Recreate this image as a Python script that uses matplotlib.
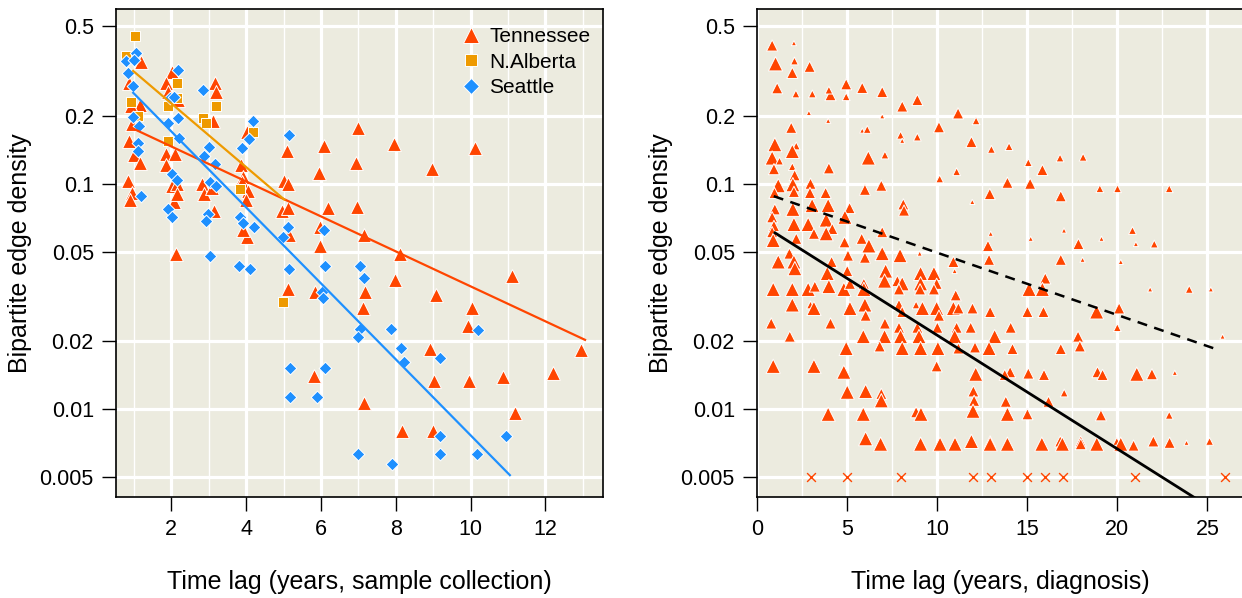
import numpy as np
import matplotlib
matplotlib.use('Agg')
import matplotlib.pyplot as plt
from matplotlib.lines import Line2D
from matplotlib.ticker import NullLocator

plt.rcParams['font.family'] = ['Liberation Sans', 'DejaVu Sans']

# ---- left panel: sample-collection time lag ----
tn_x = [1.19, 0.87, 1.16, 0.92, 0.96, 0.87, 1.01, 1.16, 0.83, 0.95, 0.89,
        2.03, 1.87, 1.92, 2.18, 1.87, 2.10, 1.85, 2.01, 2.14, 2.08, 2.14, 2.12,
        3.17, 3.19, 3.12, 2.81, 2.87, 3.08, 3.14,
        3.85, 3.92, 3.90, 4.06, 3.99, 4.01, 3.92, 4.01,
        5.02, 5.13, 5.08, 4.97, 5.11, 5.15, 5.13,
        5.97, 5.95, 6.09, 6.20, 5.97, 5.84, 5.82,
        7.00, 6.94, 6.95, 7.15, 7.19, 7.13, 7.15,
        7.95, 8.11, 7.98, 8.17,
        8.98, 9.07, 8.92, 9.02, 9.00,
        10.12, 10.04, 9.92, 9.97,
        11.10, 10.87, 11.20, 12.19, 12.94]
tn_y = [0.345, 0.28, 0.224, 0.22, 0.184, 0.155, 0.134, 0.124, 0.103, 0.091, 0.085,
        0.313, 0.28, 0.256, 0.235, 0.136, 0.136, 0.121, 0.098, 0.10, 0.083, 0.09, 0.049,
        0.28, 0.256, 0.19, 0.10, 0.09, 0.096, 0.076,
        0.121, 0.107, 0.102, 0.093, 0.085, 0.058, 0.062, 0.17,
        0.103, 0.10, 0.14, 0.076, 0.078, 0.059, 0.034,
        0.064, 0.112, 0.147, 0.078, 0.053, 0.033, 0.0141,
        0.176, 0.123, 0.079, 0.059, 0.033, 0.0281, 0.0106,
        0.15, 0.049, 0.0375, 0.008,
        0.116, 0.032, 0.0185, 0.0133, 0.008,
        0.144, 0.028, 0.0235, 0.0133,
        0.039, 0.0139, 0.0096, 0.0145, 0.0183]

na_x = [1.03, 0.80, 0.91, 1.11, 2.14, 2.14, 1.92, 1.92, 2.85, 2.92, 3.19, 4.19, 3.83, 4.98]
na_y = [0.453, 0.37, 0.23, 0.20, 0.28, 0.24, 0.22, 0.155, 0.196, 0.185, 0.22, 0.17, 0.095, 0.030]

se_x = [1.05, 0.80, 1.01, 0.83, 0.98, 2.17, 1.96, 2.07, 2.85, 0.98, 1.14, 2.17, 1.92,
        1.11, 1.10, 2.20, 3.01, 2.88, 3.17, 3.90, 4.08, 4.19, 5.15, 2.01, 2.14, 3.03,
        3.19, 1.19, 1.92, 2.03, 2.97, 2.92, 3.83, 3.92, 4.20, 5.13, 6.09, 4.99, 3.03,
        3.82, 4.11, 5.15, 6.11, 7.04, 6.02, 6.06, 5.17, 6.11, 5.17, 5.90, 7.04, 7.00,
        7.16, 7.00, 7.86, 10.21, 8.13, 8.23, 9.19, 9.18, 9.18, 10.94, 10.16, 7.89]
se_y = [0.38, 0.35, 0.355, 0.31, 0.27, 0.32, 0.24, 0.243, 0.26, 0.198, 0.18, 0.196, 0.185,
        0.152, 0.14, 0.159, 0.146, 0.133, 0.122, 0.144, 0.158, 0.189, 0.165, 0.11, 0.104, 0.102,
        0.098, 0.088, 0.077, 0.071, 0.073, 0.068, 0.071, 0.067, 0.064, 0.064, 0.062, 0.058, 0.048,
        0.043, 0.042, 0.042, 0.043, 0.043, 0.033, 0.031, 0.0152, 0.0152, 0.0113, 0.0113, 0.0226, 0.0063,
        0.038, 0.021, 0.0226, 0.0224, 0.0186, 0.0162, 0.0168, 0.0076, 0.0063, 0.0076, 0.0063, 0.0057]

# fitted lines (start/end)
tn_fit_x, tn_fit_y = [0.96, 13.06], [0.176, 0.0203]
na_fit_x, na_fit_y = [0.98, 5.02], [0.316, 0.085]
se_fit_x, se_fit_y = [0.98, 11.05], [0.253, 0.0051]

# ---- right panel: diagnosis time lag (w = relative weight of each pair) ----
dx = [0.84, 2.05, 1.03, 2.08, 1.96, 2.92, 1.12, 2.16, 3.07, 4.08, 3.99, 4.95, 4.95, 5.84, 6.95,
      8.06, 8.90, 11.16, 12.16, 2.88, 3.95, 6.95, 1.90, 5.84, 6.12, 7.97, 8.06, 8.90, 10.10, 11.90,
      0.99, 2.18, 1.96, 0.84, 1.25, 6.18, 7.10, 0.94, 1.96, 2.09, 3.99, 10.14, 11.08, 1.18, 1.99,
      2.97, 0.97, 2.05, 2.94, 3.81, 5.99, 6.90, 11.95, 3.95, 3.06, 5.14, 8.12, 8.16, 0.99, 1.99,
      0.84, 2.05, 2.84, 3.84, 4.88, 0.94, 4.18, 3.16, 3.84, 6.95, 0.84, 0.90, 2.18, 4.86, 5.81,
      1.80, 5.05, 5.99, 6.21, 6.95, 7.94, 9.03, 10.90, 10.97, 1.18, 2.05, 2.10, 4.14, 3.90, 5.01,
      7.14, 7.08, 7.79, 8.06, 9.08, 9.82, 9.97, 9.08, 5.93, 0.90, 1.96, 2.84, 3.21, 3.99, 4.82,
      5.16, 5.93, 7.88, 9.05, 9.82, 11.03, 1.96, 2.97, 3.16, 5.16, 5.99, 7.88, 8.06, 8.83, 9.18,
      9.97, 10.10, 10.90, 11.18, 11.96, 0.79, 4.08, 6.03, 7.10, 7.88, 7.97, 8.90, 10.01, 11.08,
      11.86, 1.82, 5.90, 7.08, 8.99, 10.97, 6.81, 4.95, 8.06, 9.08, 10.04, 11.18, 12.10, 0.90,
      3.16, 9.97, 12.14, 4.82, 5.01, 6.03, 6.90, 6.90, 12.01, 12.05, 11.99, 3.95, 5.90, 8.83,
      9.10, 6.03, 6.86, 9.08, 10.16, 10.99, 11.90,
      13.01, 13.99, 15.06, 15.84, 16.82, 18.10, 13.90, 15.16, 12.92, 16.86, 19.03, 20.01, 22.88,
      12.97, 15.19, 17.04, 19.12, 20.84, 21.03, 22.05, 12.82, 17.84,
      12.88, 16.86, 18.07, 20.19, 16.00, 15.10, 15.84, 21.82, 23.99, 25.19, 12.94, 15.01, 15.90,
      18.85, 20.10, 20.00, 14.08, 13.19, 17.82, 17.92, 25.84, 12.88, 14.18, 16.86, 14.05, 13.75,
      15.06, 15.93, 18.90, 19.18, 21.08, 21.92, 23.19, 17.05, 13.81, 16.18, 13.90, 15.01, 19.09,
      22.88, 12.94, 12.94, 13.90, 15.81, 16.83, 16.95, 17.97, 17.97, 18.86, 19.97, 20.19, 20.90,
      22.00, 22.90, 23.84, 25.12]
dy = [0.41, 0.42, 0.34, 0.35, 0.31, 0.33, 0.265, 0.25, 0.25, 0.247, 0.26, 0.276, 0.243, 0.266, 0.255,
      0.22, 0.235, 0.205, 0.19, 0.206, 0.19, 0.199, 0.177, 0.172, 0.174, 0.164, 0.155, 0.161, 0.178, 0.153,
      0.149, 0.147, 0.139, 0.13, 0.126, 0.13, 0.134, 0.116, 0.119, 0.109, 0.117, 0.105, 0.113, 0.098, 0.099,
      0.10, 0.091, 0.092, 0.091, 0.091, 0.094, 0.098, 0.083, 0.08, 0.08, 0.078, 0.081, 0.076, 0.077, 0.077,
      0.071, 0.066, 0.066, 0.069, 0.071, 0.065, 0.063, 0.060, 0.060, 0.061, 0.061, 0.056, 0.057, 0.055, 0.057,
      0.049, 0.048, 0.047, 0.053, 0.049, 0.048, 0.049, 0.045, 0.041, 0.045, 0.045, 0.042, 0.045, 0.040, 0.041,
      0.041, 0.037, 0.037, 0.036, 0.040, 0.040, 0.036, 0.036, 0.036, 0.034, 0.034, 0.034, 0.035, 0.035, 0.034,
      0.036, 0.034, 0.034, 0.034, 0.034, 0.032, 0.029, 0.029, 0.028, 0.028, 0.029, 0.029, 0.027, 0.029, 0.028,
      0.028, 0.026, 0.028, 0.028, 0.028, 0.024, 0.024, 0.026, 0.024, 0.023, 0.021, 0.023, 0.023, 0.023,
      0.023, 0.021, 0.021, 0.021, 0.021, 0.021, 0.019, 0.0186, 0.0186, 0.0186, 0.0186, 0.0186, 0.0188, 0.0155,
      0.0155, 0.0155, 0.0143, 0.0146, 0.0119, 0.012, 0.0117, 0.0109, 0.012, 0.0109, 0.0098, 0.0095, 0.0095, 0.0097,
      0.0095, 0.0074, 0.007, 0.007, 0.007, 0.007, 0.0072,
      0.142, 0.146, 0.124, 0.115, 0.13, 0.131, 0.101, 0.10, 0.09, 0.088, 0.095, 0.095, 0.095,
      0.06, 0.057, 0.062, 0.057, 0.062, 0.054, 0.054, 0.053, 0.054,
      0.046, 0.046, 0.046, 0.045, 0.038, 0.034, 0.034, 0.034, 0.034, 0.034, 0.027, 0.027, 0.027,
      0.027, 0.028, 0.023, 0.023, 0.021, 0.021, 0.019, 0.021, 0.0186, 0.0185, 0.0185, 0.0146, 0.0142,
      0.0144, 0.0142, 0.0146, 0.0142, 0.0143, 0.0143, 0.0145, 0.0118, 0.0108, 0.0108, 0.0095, 0.0095, 0.0094,
      0.0094, 0.0072, 0.007, 0.007, 0.007, 0.0072, 0.007, 0.0072, 0.007, 0.007, 0.0072, 0.007, 0.0069,
      0.0072, 0.0071, 0.0071, 0.0072]
dw = [3, 1, 4, 2, 3, 3, 3, 2, 2, 3, 2, 3, 2, 3, 3,
      3, 3, 3, 2, 1, 1, 1, 3, 1, 2, 2, 1, 2, 3, 3,
      4, 2, 4, 4, 2, 4, 2, 3, 2, 3, 3, 2, 2, 4, 4,
      3, 3, 3, 3, 3, 3, 3, 1, 4, 4, 3, 3, 3, 3, 4,
      3, 4, 4, 4, 4, 3, 3, 3, 4, 3, 3, 4, 3, 3, 3,
      3, 3, 3, 4, 4, 4, 1, 3, 1, 4, 4, 4, 3, 4, 3,
      4, 4, 3, 4, 4, 4, 3, 4, 3, 4, 4, 4, 3, 4, 4,
      3, 4, 3, 3, 3, 3, 4, 2, 4, 4, 4, 3, 3, 2, 4,
      4, 3, 4, 3, 3, 3, 3, 3, 3, 3, 4, 3, 3, 3,
      3, 3, 4, 4, 4, 4, 3, 4, 4, 4, 4, 3, 3, 4,
      4, 3, 4, 4, 4, 4, 3, 4, 3, 3, 4, 4, 4, 3,
      4, 4, 4, 4, 4, 4, 4,
      2, 2, 2, 3, 2, 2, 3, 3, 3, 3, 2, 2, 2,
      1, 1, 1, 1, 2, 1, 2, 3, 3,
      3, 3, 1, 1, 3, 4, 4, 1, 2, 1, 3, 3, 3,
      4, 3, 2, 3, 4, 3, 3, 1, 4, 3, 3, 3, 3,
      3, 3, 3, 3, 4, 3, 1, 2, 3, 3, 4, 3, 3,
      2, 3, 4, 4, 4, 3, 4, 3, 3, 4, 2, 4, 3,
      3, 3, 1, 2]
zero_x = [3, 5, 8, 12, 13, 15, 16, 17, 21, 26]
zero_level = 0.005

diag_fit_x, diag_fit_y = [1.0, 25.0], [0.0605, 0.00373]
diag_fit2_x, diag_fit2_y = [0.93, 25.71], [0.088, 0.0182]

yticks = [0.5, 0.2, 0.1, 0.05, 0.02, 0.01, 0.005]
ytick_labels = ['0.5', '0.2', '0.1', '0.05', '0.02', '0.01', '0.005']

BG = '#ECEBDF'
TN, NA, SE = '#FF4500', '#EE9A00', '#1E90FF'

fig = plt.figure(figsize=(12.42, 5.98), dpi=100)
ax1 = fig.add_axes([116 / 1242, 1 - 497 / 598, 487 / 1242, 488 / 598])
ax2 = fig.add_axes([757 / 1242, 1 - 497 / 598, 487 / 1242, 488 / 598])


def style(ax, xlim, xt, major, minor):
    ax.set_facecolor(BG)
    ax.set_yscale('log')
    ax.set_xlim(*xlim)
    ax.set_ylim(0.00408, 0.595)
    for v in major:
        ax.axvline(v, color='white', lw=2.3, zorder=1)
    for v in minor:
        ax.axvline(v, color='white', lw=1.0, zorder=1)
    for v in yticks:
        ax.axhline(v, color='white', lw=2.3, zorder=1)
    ax.set_yticks(yticks)
    ax.set_yticklabels(ytick_labels)
    ax.yaxis.set_minor_locator(NullLocator())
    ax.set_xticks(xt)
    ax.tick_params(direction='out', length=10, width=1, labelsize=15.5, pad=6)
    for s in ax.spines.values():
        s.set_linewidth(1.2)
    ax.set_ylabel('Bipartite edge density', fontsize=18)
    ax.yaxis.set_label_coords(-0.172, 0.5)


style(ax1, (0.52, 13.54), [2, 4, 6, 8, 10, 12], range(2, 14, 2), range(1, 14, 2))
style(ax2, (0, 27.03), [0, 5, 10, 15, 20, 25], range(0, 30, 5), np.arange(2.5, 28, 5))

ax1.scatter(tn_x, tn_y, marker='^', s=100, c=TN, edgecolors='white', linewidths=0.7, zorder=2)
ax1.scatter(na_x, na_y, marker='s', s=45, c=NA, edgecolors='white', linewidths=0.7, zorder=2)
ax1.scatter(se_x, se_y, marker='D', s=42, c=SE, edgecolors='white', linewidths=0.7, zorder=2)
ax1.plot(tn_fit_x, tn_fit_y, color=TN, lw=1.6, zorder=3)
ax1.plot(na_fit_x, na_fit_y, color=NA, lw=1.6, zorder=3)
ax1.plot(se_fit_x, se_fit_y, color=SE, lw=1.6, zorder=3)
ax1.set_xlabel('Time lag (years, sample collection)', fontsize=18)
ax1.xaxis.set_label_coords(0.5, -0.174)
ax1.xaxis.label.set_va('center')

handles = [Line2D([], [], ls='none', marker='^', ms=11.5, color=TN, mec='white', mew=0.7),
           Line2D([], [], ls='none', marker='s', ms=8.5, color=NA, mec='white', mew=0.7),
           Line2D([], [], ls='none', marker='D', ms=8, color=SE, mec='white', mew=0.7)]
ax1.legend(handles, ['Tennessee', 'N.Alberta', 'Seattle'], loc='upper left',
           bbox_to_anchor=(0.69, 0.98), frameon=False, fontsize=15, handlelength=1.0,
           handletextpad=0.4, labelspacing=0.31, borderaxespad=0)

size_map = {1: 14, 2: 32, 3: 65, 4: 105}
ax2.scatter(dx, dy, marker='^', s=[size_map[w] for w in dw], c=TN, edgecolors='white',
            linewidths=0.7, zorder=2)
ax2.scatter(zero_x, [zero_level] * len(zero_x), marker='x', s=40, c=TN, linewidths=1.0, zorder=2)
ax2.plot(diag_fit_x, diag_fit_y, color='black', lw=2.0, zorder=3)
ax2.plot(diag_fit2_x, diag_fit2_y, color='black', lw=1.8, ls=(0, (4, 3)), zorder=3)
ax2.spines['right'].set_visible(False)
ax2.set_xlabel('Time lag (years, diagnosis)', fontsize=18)
ax2.xaxis.set_label_coords(0.5, -0.174)
ax2.xaxis.label.set_va('center')

fig.savefig('out.png', dpi=100)
